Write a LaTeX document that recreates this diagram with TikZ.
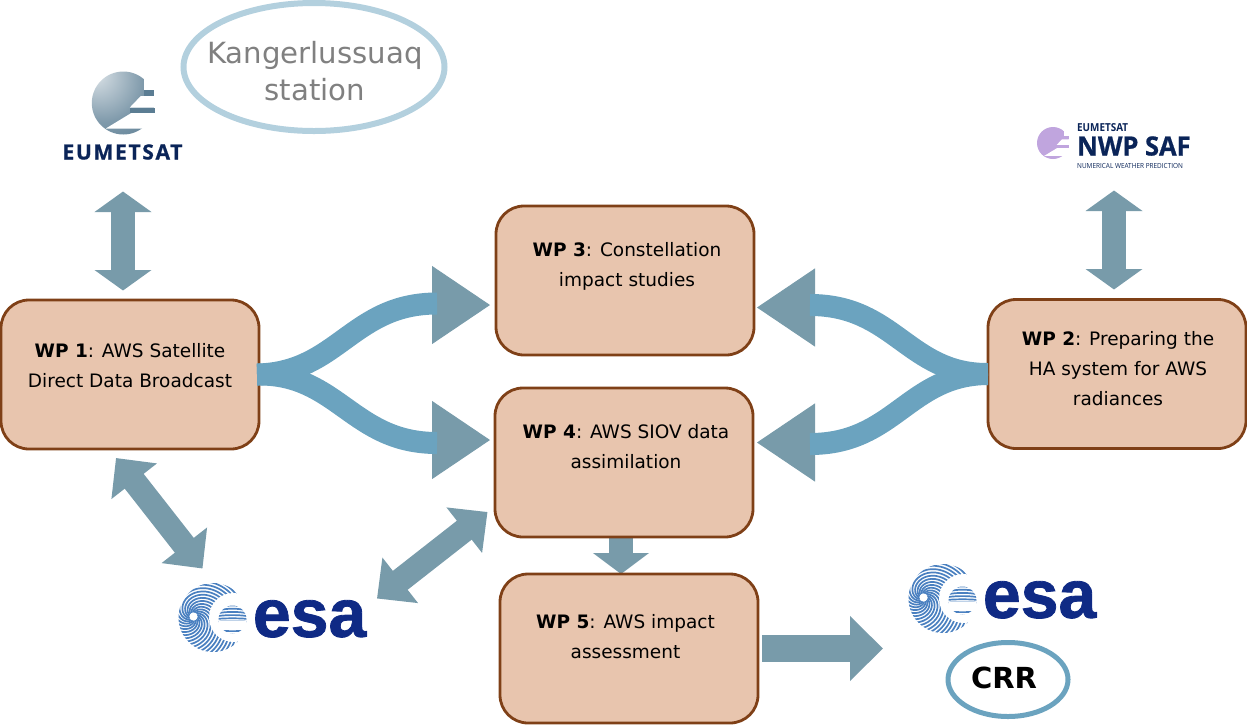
\documentclass[tikz,border=0pt]{standalone}
\usepackage{fontspec}
\setmainfont{DejaVu Sans}
\newfontfamily\logofont{Open Sans}
\newfontfamily\logoheavy[FakeBold=0.8]{Open Sans Bold}
\newfontfamily\esafont[FakeBold=1.2]{Liberation Sans Bold}
\usetikzlibrary{arrows.meta,backgrounds}
\definecolor{boxfill}{HTML}{E8C5AE}
\definecolor{boxline}{HTML}{7F4017}
\definecolor{headc}{HTML}{789BAA}
\definecolor{shaftc}{HTML}{6BA3BF}
\definecolor{ringa}{HTML}{B3D0DE}
\definecolor{ringb}{HTML}{6BA3BF}
\definecolor{esanavy}{HTML}{0F2A85}
\definecolor{esablue}{HTML}{4A80C0}
\definecolor{eumnavy}{HTML}{0A2458}
\definecolor{globebar}{HTML}{5B7D93}
\definecolor{nwpc}{HTML}{C0A5DE}
\pgfdeclareradialshading{globeshade}{\pgfpoint{-24bp}{25bp}}{color(0bp)=(white!82!globebar); color(10bp)=(white!62!globebar); color(32bp)=(white!22!globebar); color(55bp)=(globebar); color(100bp)=(globebar!90!black)}
\tikzset{
  wpbox/.style={draw=boxline,fill=boxfill,line width=2.8pt,rounded corners=28pt,minimum width=258pt,minimum height=149pt,outer sep=0pt,inner sep=0pt},
  wptext/.style={align=center,inner sep=0pt,text=black,font=\fontsize{18.5}{30}\selectfont},
  flow/.style={draw=shaftc,line width=22pt},
  bighead/.style={draw=headc,line width=1pt,-{Triangle[length=58pt,width=78pt,color=headc,fill=headc]}},
  dblarrow/.style={draw=headc,line width=24pt,{Triangle[length=20.5pt,width=56pt,color=headc,fill=headc]}-{Triangle[length=20.5pt,width=56pt,color=headc,fill=headc]}},
  diagarrow/.style={draw=headc,line width=24pt,{Triangle[length=29.5pt,width=56pt,color=headc,fill=headc]}-{Triangle[length=29.5pt,width=56pt,color=headc,fill=headc]}},
  esalogo/.pic={
    \begin{scope}
      \clip (0,0) circle[radius=34.5];
      \foreach \a in {0,20,...,340}{\draw[esablue,line width=1.7pt] plot[domain=0:5.2,samples=36,smooth] ({-19.5+(4*cos(\x r+\a)+10*\x*cos(\x r+\a))},{-1+(4*sin(\x r+\a)+10*\x*sin(\x r+\a))});}
    \end{scope}
    \fill[white] (-19.5,-1) circle[radius=4];
    \fill[white] (20.5,0) circle[radius=24.5];
    \begin{scope}
      \clip (19.5,2) circle[radius=14];
      \foreach \r in {1.6,4.8,...,30}{\draw[esablue,line width=1.7pt] (19.5,12) ++(-30,0) arc[start angle=180,end angle=0,x radius=30,y radius=\r];}
      \foreach \r in {1,4.2,...,30}{\draw[esablue,line width=1.7pt] (19.5,5) ++(-30,0) arc[start angle=180,end angle=360,x radius=30,y radius=\r];}
      \fill[white] (4,3.2) rectangle (36,6);
      \fill[white] (25,6) rectangle (36,10);
    \end{scope}
    \node[anchor=base west,inner sep=0pt,text=esanavy,font=\esafont\fontsize{68}{70}\selectfont] (word) at (39.7,19.3) {esa};
  }
}
\newcommand{\globeshape}[2]{%
  #1 (0,0) circle[radius=31.5];
  \fill[white] (21,-24) rectangle (37,-13);
  \fill[white] (37,-7) -- (17.5,-7) -- (6.5,4.5) -- (37,4.5) -- cycle;
  \fill[white] (37,10) -- (8,10) -- (-17.5,25.5) -- (37,25.5) -- cycle;
  \fill[#2] (20.5,-13) rectangle (31,-7);
  \fill[#2] (6.5,4.5) rectangle (32,10);
}
\tikzset{
  eumglobe/.pic={\globeshape{\shade[shading=globeshade]}{globebar}},
  nwpglobe/.pic={\globeshape{\fill[nwpc]}{nwpc}}
}
\begin{document}
\begin{tikzpicture}[x=1pt,y=-1pt]
\useasboundingbox (0,0) rectangle (1247,724);
% ellipses
\coordinate (stationc) at (314,67);
\draw[ringa,line width=6pt] (stationc) ellipse[x radius=130.5,y radius=64];
\node[inner sep=0pt,align=center,text=gray,font=\fontsize{29.2}{37}\selectfont] (station) at (315,71.5) {Kangerlussuaq\\station};
\coordinate (crrc) at (1008,679.5);
\draw[ringb,line width=5pt] (crrc) ellipse[x radius=60,y radius=37];
\node[inner sep=0pt,font=\bfseries\fontsize{29}{36}\selectfont] (crr) at (1004,678) {CRR};
% logos
\pic (eumg) at (123.3,103) {eumglobe};
\node[inner sep=0pt,anchor=base,text=eumnavy,font=\logoheavy\fontsize{21}{21}\addfontfeature{LetterSpace=8}\selectfont] (eumword) at (122.5,159.5) {EUMETSAT};
\pic[scale=.508] (nwpg) at (1053,143) {nwpglobe};
\node[inner sep=0pt,anchor=base west,text=eumnavy,xscale=.9,font=\logofont\bfseries\fontsize{11}{11}\selectfont] (nwpa) at (1077,131) {EUMETSAT};
\node[inner sep=0pt,anchor=base west,text=eumnavy,xscale=.96,font=\logoheavy\fontsize{26.5}{27}\selectfont] (nwpb) at (1077,155.5) {NWP SAF};
\node[inner sep=0pt,anchor=base west,text=eumnavy,xscale=.92,font=\logofont\fontsize{7}{7}\selectfont] (nwpc) at (1077,168) {NUMERICAL WEATHER PREDICTION};
\pic (esaA) at (213,617.5) {esalogo};
\pic (esaB) at (943,598.5) {esalogo};
% boxes
\node[wpbox] (wp1) at (130,374.5) {};
\node[wpbox] (wp3) at (625,280.5) {};
\node[wpbox] (wp4) at (624,462.5) {};
\node[wpbox] (wp5) at (629,648.5) {};
\node[wpbox] (wp2) at (1117,374) {};
\node[wptext] (t1) at (130,365.8) {\textbf{WP 1}: AWS Satellite\\Direct Data Broadcast};
\node[wptext] (t3) at (627,266.5) {\textbf{WP 3}: Constellation\\impact studies};
\node[wptext] (t4) at (626,446.8) {\textbf{WP 4}: AWS SIOV data\\assimilation};
\node[wptext] (t5) at (625.5,636.8) {\textbf{WP 5}: AWS impact\\assessment};
\node[wptext] (t2) at (1118,368.8) {\textbf{WP 2}: Preparing the\\HA system for AWS\\radiances};
% coordinates
\coordinate (base3) at (432,305);  \coordinate (tip3) at (490,305);  \coordinate (end3) at (437,303.5);
\coordinate (base4) at (432,440);  \coordinate (tip4) at (490,440);  \coordinate (end4) at (437,443);
\coordinate (rbase3) at (815,307.5); \coordinate (rtip3) at (757,307.5); \coordinate (rend3) at (810,305);
\coordinate (rbase4) at (815,442.5); \coordinate (rtip4) at (757,442.5); \coordinate (rend4) at (810,444);
\coordinate (eumtop) at (123,191.5); \coordinate (eumbot) at (123,290.5);
\coordinate (nwptop) at (1114,190.5); \coordinate (nwpbot) at (1114,289.5);
\coordinate (dA) at (116,458); \coordinate (dB) at (202.5,568.5);
\coordinate (dC) at (377,598.5); \coordinate (dD) at (487.5,512);
\coordinate (wsA) at (762,648.5); \coordinate (wsB) at (883,648.5);
% big heads and curved flows
\draw[bighead] (base3) -- (tip3);
\draw[bighead] (base4) -- (tip4);
\draw[bighead] (rbase3) -- (rtip3);
\draw[bighead] (rbase4) -- (rtip4);
\draw[flow] ([xshift=-2pt]wp1.east) .. controls (338,373) and (352,303.5) .. (end3);
\draw[flow] ([xshift=-2pt]wp1.east) .. controls (338,373) and (352,443) .. (end4);
\draw[flow] (wp2.west) .. controls (908,374.5) and (895,305) .. (rend3);
\draw[flow] (wp2.west) .. controls (908,374.5) and (895,444) .. (rend4);
% straight arrows
\draw[dblarrow] (eumtop) -- (eumbot);
\draw[dblarrow] (nwptop) -- (nwpbot);
\draw[diagarrow] (dA) -- (dB);
\draw[diagarrow] (dC) -- (dD);
\draw[draw=headc,line width=27pt,-{Triangle[length=33pt,width=63pt,color=headc,fill=headc]}] (wsA) -- (wsB);
\begin{scope}[on background layer]
\draw[draw=headc,line width=24pt,-{Triangle[length=21pt,width=55pt,color=headc,fill=headc]}] ([xshift=-3pt]wp4.south) -- ([xshift=-8pt]wp5.north);
\end{scope}
\end{tikzpicture}
\end{document}
